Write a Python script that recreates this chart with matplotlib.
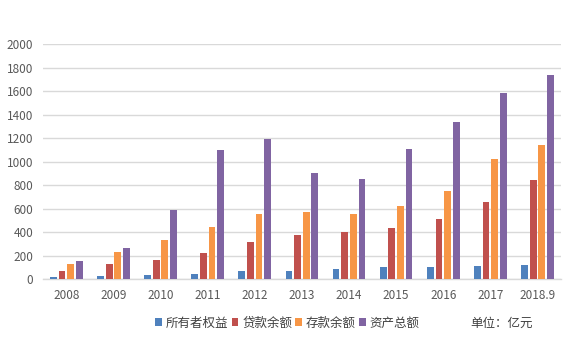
import matplotlib
matplotlib.use("Agg")
import matplotlib.pyplot as plt
import numpy as np
from matplotlib.patches import Patch

plt.rcParams['font.family'] = ['Noto Sans CJK SC', 'DejaVu Sans']

# 年度及各项指标（亿元）
years = ["2008", "2009", "2010", "2011", "2012", "2013", "2014", "2015", "2016", "2017", "2018.9"]
equity = [20, 28, 37, 45, 70, 70, 88, 105, 105, 113, 121]
loans = [70, 130, 164, 224, 317, 377, 402, 437, 513, 657, 845]
deposits = [130, 232, 334, 445, 556, 573, 556, 623, 751, 1023, 1143]
assets = [156, 266, 590, 1100, 1194, 905, 854, 1109, 1339, 1585, 1738]

series_names = ["所有者权益", "贷款余额", "存款余额", "资产总额"]
series_values = [equity, loans, deposits, assets]
colors = ["#4F81BD", "#C0504D", "#F79646", "#8064A2"]

fig = plt.figure(figsize=(5.75, 3.41), dpi=100)
ax = fig.add_axes([0.0743, 0.181, 0.9014, 0.689])

x = np.arange(len(years))
step = 0.183
width = 0.145
for i, (vals, c) in enumerate(zip(series_values, colors)):
    ax.bar(x + (i - 1.5) * step, vals, width=width, color=c, zorder=3)

ax.set_xlim(-0.5, len(years) - 0.5)
ax.set_ylim(0, 2000)
ax.set_yticks(np.arange(0, 2001, 200))
ax.set_xticks(x)
ax.set_xticklabels(years)
ax.yaxis.grid(True, color="#D9D9D9", linewidth=1.0, zorder=0)
ax.set_axisbelow(True)
for s in ["top", "right", "left"]:
    ax.spines[s].set_visible(False)
ax.spines["bottom"].set_color("#D9D9D9")
ax.spines["bottom"].set_linewidth(1.0)
ax.tick_params(axis="both", length=0, labelsize=8.5, labelcolor="#595959")
ax.tick_params(axis="x", pad=7)
ax.tick_params(axis="y", pad=7)

handles = [Patch(facecolor=c, edgecolor="none") for c in colors]
fig.legend(handles, series_names, loc="center", bbox_to_anchor=(0.5, 0.053),
           ncol=4, frameon=False, fontsize=9, handlelength=0.55, handleheight=0.55,
           handletextpad=0.3, columnspacing=0.25, labelcolor="#404040")
fig.text(470 / 575, 0.053, "单位：亿元", fontsize=9, color="#404040", va="center", ha="left")

fig.savefig("out.png", dpi=100)
